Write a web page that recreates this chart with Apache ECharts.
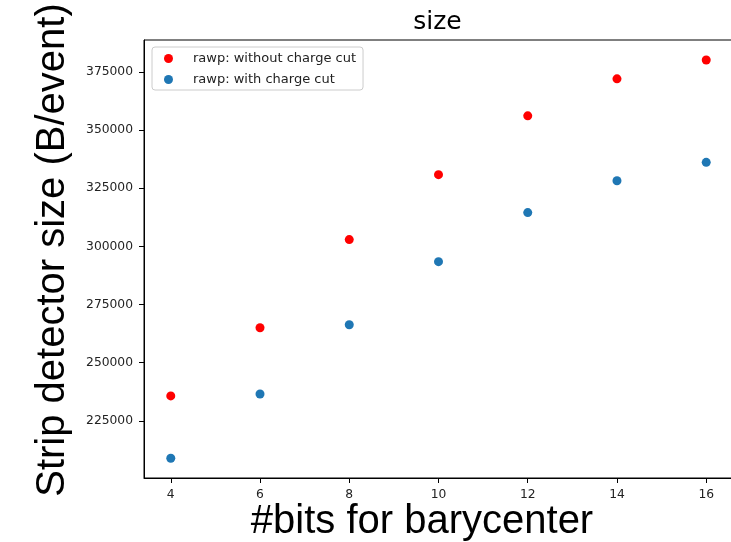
<!DOCTYPE html>
<html>
<head>
<meta charset="utf-8">
<script src="https://cdn.jsdelivr.net/npm/echarts@6/dist/echarts.min.js"></script>
<style>
  html, body { margin: 0; padding: 0; background: #fff; }
  #chart { width: 731px; height: 542px; }
</style>
</head>
<body>
<div id="chart"></div>
<script>
// Number of bits used for the barycenter
const bits = [4, 6, 8, 10, 12, 14, 16];
// Strip detector size (bytes/event)
const withoutChargeCut = [235700, 265000, 302900, 330800, 356100, 372000, 380100];
const withChargeCut = [208900, 236500, 266300, 293400, 314500, 328200, 336100];
// Tick positions
const xTicks = [4, 6, 8, 10, 12, 14, 16];
const yTicks = [225000, 250000, 275000, 300000, 325000, 350000, 375000];

const toPairs = (xs, ys) => xs.map((x, i) => [x, ys[i]]);

const tickFont = { fontFamily: 'DejaVu Sans', fontSize: 12.3, color: '#222' };
const bigFont = '40px "Liberation Sans"';

const chart = echarts.init(document.getElementById('chart'), null, { renderer: 'canvas' });
chart.setOption({
  animation: false,
  backgroundColor: '#ffffff',
  graphic: [
    {
      type: 'text', x: 437.5, y: 22,
      style: { text: 'size', font: '25px "DejaVu Sans"', fill: '#000', align: 'center', verticalAlign: 'middle' }
    },
    {
      type: 'text', x: 422, y: 522,
      style: { text: '#bits for barycenter', font: bigFont, fill: '#000', align: 'center', verticalAlign: 'middle' }
    },
    {
      type: 'text', x: 53, y: 250, rotation: Math.PI / 2,
      style: { text: 'Strip detector size (B/event)', font: bigFont, fill: '#000', align: 'center', verticalAlign: 'middle' }
    }
  ],
  legend: {
    orient: 'vertical',
    left: 152,
    top: 47,
    padding: [4, 7, 3, 12],
    itemGap: 6,
    itemWidth: 9,
    itemHeight: 9,
    icon: 'circle',
    borderColor: '#cccccc',
    borderWidth: 1,
    borderRadius: 3,
    backgroundColor: 'rgba(255,255,255,0.8)',
    textStyle: { fontFamily: 'DejaVu Sans', fontSize: 13, color: '#222', lineHeight: 15, padding: [0, 0, 0, 15] },
    data: ['rawp: without charge cut', 'rawp: with charge cut']
  },
  grid: {
    left: 144, top: 40, width: 589, height: 438,
    show: true, borderColor: '#000', borderWidth: 1,
    containLabel: false,
    outerBoundsMode: 'none'
  },
  xAxis: {
    type: 'value',
    min: 3.4, max: 16.6,
    axisLine: { show: true, lineStyle: { color: '#000', width: 1 } },
    axisTick: { show: true, length: 5, lineStyle: { color: '#000' }, customValues: xTicks },
    axisLabel: { ...tickFont, margin: 10.5, customValues: xTicks },
    splitLine: { show: false }
  },
  yAxis: {
    type: 'value',
    min: 200400, max: 388700,
    axisLine: { show: true, lineStyle: { color: '#000', width: 1 } },
    axisTick: { show: true, length: 5, lineStyle: { color: '#000' }, customValues: yTicks },
    axisLabel: { ...tickFont, margin: 11, customValues: yTicks, formatter: (v) => String(v) },
    splitLine: { show: false }
  },
  series: [
    {
      name: 'rawp: without charge cut',
      type: 'scatter',
      symbol: 'circle',
      symbolSize: 9,
      itemStyle: { color: '#ff0000', opacity: 1 },
      data: toPairs(bits, withoutChargeCut)
    },
    {
      name: 'rawp: with charge cut',
      type: 'scatter',
      symbol: 'circle',
      symbolSize: 9,
      itemStyle: { color: '#1f77b4', opacity: 1 },
      data: toPairs(bits, withChargeCut)
    }
  ]
});
</script>
</body>
</html>
